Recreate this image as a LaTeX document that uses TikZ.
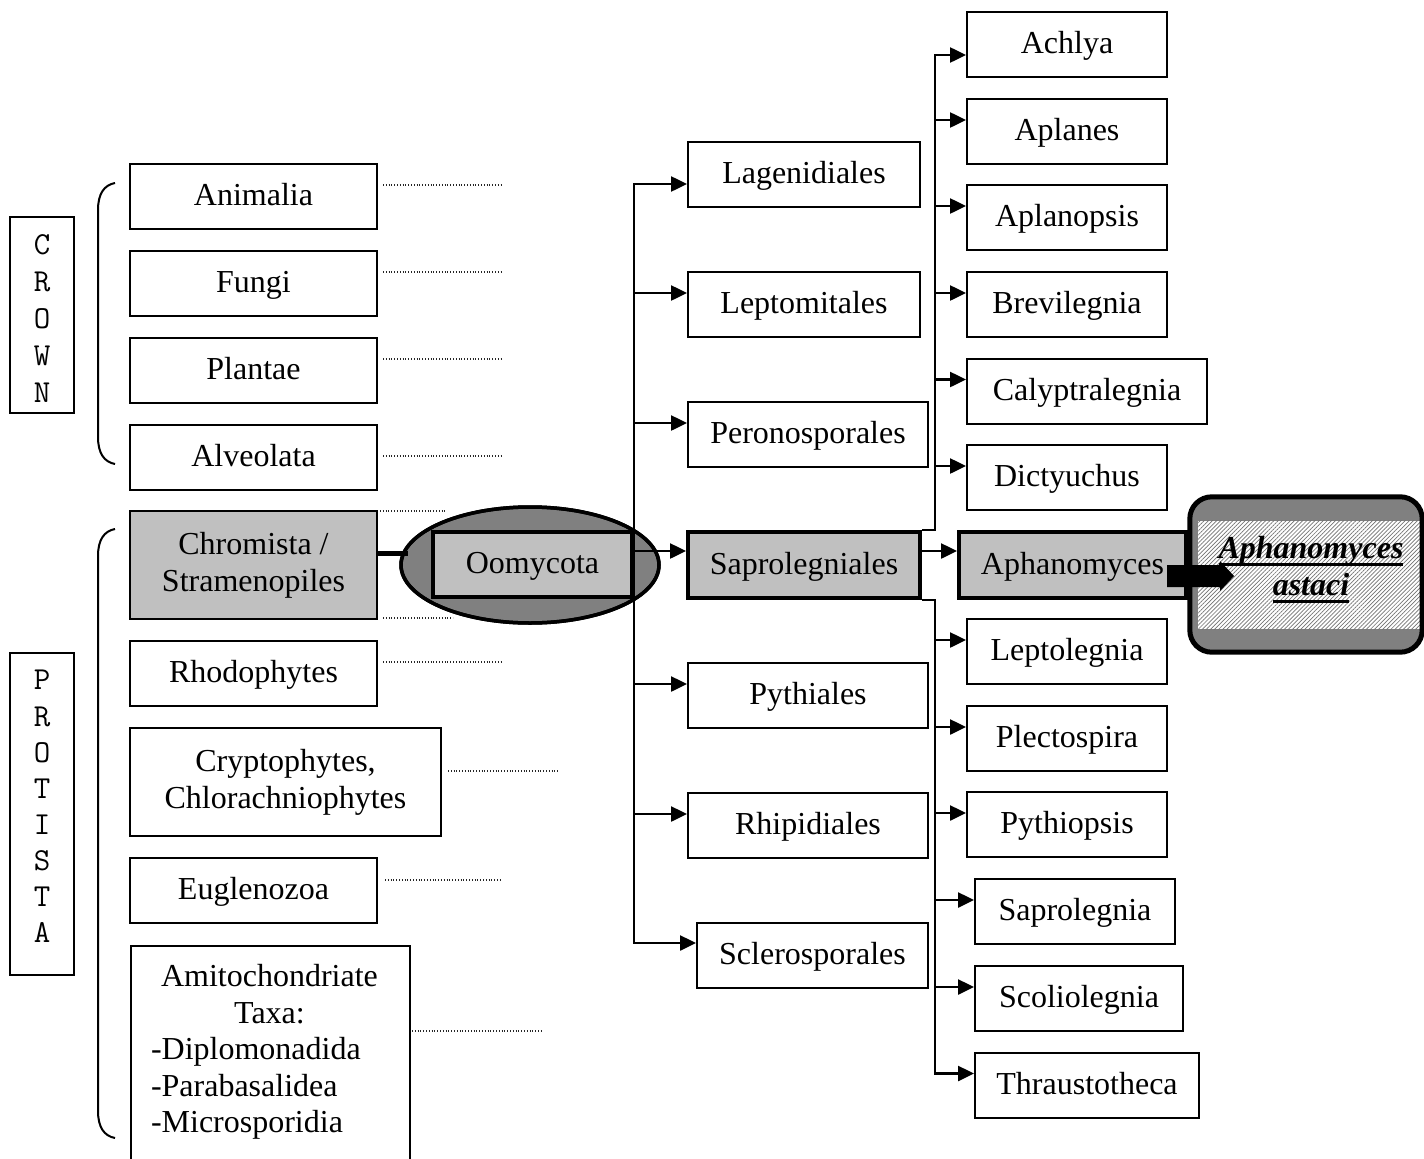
\documentclass[tikz,border=0pt]{standalone}
\usepackage{fontspec}
\setmainfont{Liberation Serif}
\usetikzlibrary{arrows.meta,shapes.geometric,patterns.meta,calc}
\definecolor{lgray}{HTML}{C0C0C0}
\definecolor{dgray}{HTML}{808080}
\newcommand\thickul[1]{\setbox0=\hbox{#1}\rlap{\rule[-7pt]{\wd0}{2.5pt}}\box0}
\begin{document}
\begin{tikzpicture}[x=1pt,y=-1pt,
  every node/.style={inner sep=0pt, font=\fontsize{32}{37}\selectfont},
  boxbase/.style={draw, line width=2pt, fill=white},
  box/.style={boxbase, text height=24pt, text depth=6pt},
  graybox/.style={draw, line width=4pt, fill=lgray, text height=24pt, text depth=6pt},
  conn/.style={line width=2.5pt, -{Triangle[length=16pt,width=15pt]}},
  conntwo/.style={line width=2.5pt, {Triangle[length=16pt,width=15pt]}-{Triangle[length=16pt,width=15pt]}},
  dotl/.style={line width=1.1pt, black!85, dash pattern=on 1pt off 1.8pt},
  bracel/.style={line width=2pt},
  monolbl/.style={align=center},
]
\useasboundingbox (0,0) rectangle (1424,1159);
\clip (0,0) rectangle (1424,1159);

% side labels
\node[boxbase, minimum width=64, minimum height=196] (crownbox) at (42,315) {};
\node[monolbl, font=\ttfamily\fontsize{32}{37}\selectfont] (crownlbl) at (42,318.5) {C\\R\\O\\W\\N};
\node[boxbase, minimum width=64, minimum height=322] (protbox) at (42,814) {};
\node[monolbl, font=\ttfamily\fontsize{32}{36.1}\selectfont] (protlbl) at (42,806.5) {P\\R\\O\\T\\I\\S\\T\\A};

% braces
\draw[bracel] (115,183) .. controls (104,185) and (98,194) .. (98,210) -- (98,437) .. controls (98,453) and (104,462) .. (115,464);
\draw[bracel] (115,529) .. controls (104,531) and (98,540) .. (98,556) -- (98,1111) .. controls (98,1127) and (104,1136) .. (115,1138);

% dotted lines
\draw[dotl] (383,185) -- (502,185);
\draw[dotl] (383,272) -- (502,272);
\draw[dotl] (383,359) -- (502,359);
\draw[dotl] (383,456) -- (502,456);
\draw[dotl] (380,511) -- (446,511);
\draw[dotl] (383,618) -- (453,618);
\draw[dotl] (383,662) -- (502,662);
\draw[dotl] (448,771) -- (558,771);
\draw[dotl] (385,880) -- (502,880);
\draw[dotl] (412,1031) -- (542,1031);

% left column
\node[box, minimum width=247, minimum height=65] (anim) at (253.5,196.5) {Animalia};
\node[box, minimum width=247, minimum height=65] (fungi) at (253.5,283.5) {Fungi};
\node[box, minimum width=247, minimum height=65] (plant) at (253.5,370.5) {Plantae};
\node[box, minimum width=247, minimum height=65] (alveo) at (253.5,457.5) {Alveolata};
\node[boxbase, fill=lgray, minimum width=247, minimum height=108, align=center] (chrom) at (253.5,565) {Chromista /\\Stramenopiles};
\node[box, minimum width=247, minimum height=65] (rhodo) at (253.5,673.5) {Rhodophytes};
\node[boxbase, minimum width=311, minimum height=108, align=center] (crypt) at (285.5,782) {Cryptophytes,\\Chlorachniophytes};
\node[box, minimum width=247, minimum height=65] (eugl) at (253.5,890.5) {Euglenozoa};
\node[boxbase, minimum width=279, minimum height=260, anchor=north west] (amito) at (130,945) {};
\node[align=center, anchor=north, font=\fontsize{32}{36.6}\selectfont] (amitotxt) at (269.5,964) {Amitochondriate\\Taxa:\\\makebox[237pt][l]{-Diplomonadida}\\\makebox[237pt][l]{-Parabasalidea}\\\makebox[237pt][l]{-Microsporidia}};

% Oomycota
\coordinate (chromOut) at ([yshift=12pt]chrom.east);
\node[ellipse, draw, line width=3.5pt, fill=dgray, minimum width=258, minimum height=116] (oell) at (530,565) {};
\draw[line width=5pt] (chromOut) -- ([xshift=9pt]chromOut -| oell.west);
\node[ellipse, draw, line width=3.5pt, minimum width=258, minimum height=116] (oellb) at (530,565) {};
\node[graybox, minimum width=199, minimum height=65] (oomr) at (532.5,564.5) {Oomycota};

% orders
\node[box, minimum width=232, minimum height=65] (lag) at (804,174.5) {Lagenidiales};
\node[box, minimum width=232, minimum height=65] (lep) at (804,304.5) {Leptomitales};
\node[box, minimum width=240, minimum height=65] (per) at (808,434.5) {Peronosporales};
\node[graybox, minimum width=232, minimum height=66] (sap) at (804,565) {Saprolegniales};
\node[box, minimum width=240, minimum height=65] (pyt) at (808,695.5) {Pythiales};
\node[box, minimum width=240, minimum height=65] (rhi) at (808,825.5) {Rhipidiales};
\node[box, minimum width=231, minimum height=65] (scl) at (812.5,955.5) {Sclerosporales};

\coordinate (in-lag) at ([yshift=-43pt]lag.north west);
\foreach \n in {lep,per,pyt,rhi}{\coordinate (in-\n) at ([yshift=-22pt]\n.north west);}
\coordinate (in-sap) at ([yshift=-21pt]sap.north west);
\coordinate (in-scl) at ([yshift=-21pt]scl.north west);

\draw[conntwo] (in-lag) -- (oomr.east |- in-lag) -- (oomr.east |- in-scl) -- (in-scl);
\foreach \n in {lep,per,sap,pyt,rhi}{\draw[conn] (oomr.east |- in-\n) -- (in-\n);}

% genera
\coordinate (rt) at (935,565);
\node[box, minimum width=200, minimum height=65] (ach) at (1067,44.5) {Achlya};
\node[box, minimum width=200, minimum height=65] (apl) at (1067,131.5) {Aplanes};
\node[box, minimum width=200, minimum height=65] (aplo) at (1067,217.5) {Aplanopsis};
\node[box, minimum width=200, minimum height=65] (brev) at (1067,304.5) {Brevilegnia};
\node[box, minimum width=240, minimum height=65] (caly) at (1087,391) {Calyptralegnia};
\node[box, minimum width=200, minimum height=65] (dict) at (1067,477.5) {Dictyuchus};
\node[box, minimum width=200, minimum height=65] (lepto) at (1067,651.5) {Leptolegnia};
\node[box, minimum width=200, minimum height=65] (plec) at (1067,738.5) {Plectospira};
\node[box, minimum width=200, minimum height=65] (pythio) at (1067,824.5) {Pythiopsis};
\node[box, minimum width=200, minimum height=65] (saprol) at (1075,911.5) {Saprolegnia};
\node[box, minimum width=208, minimum height=65] (scol) at (1079,998.5) {Scoliolegnia};
\node[box, minimum width=224, minimum height=65] (thr) at (1087,1085) {Thraustotheca};

\coordinate (in-ach) at ([yshift=-44pt]ach.north west);
\foreach \n in {apl,aplo,brev,caly,dict,lepto,plec,pythio,saprol,scol,thr}{\coordinate (in-\n) at ([yshift=-22pt]\n.north west);}

\draw[conn] (sap.north east) -- (rt |- sap.north east) -- (rt |- in-ach) -- (in-ach);
\draw[conn] (sap.south east) -- (rt |- sap.south east) -- (rt |- in-thr) -- (in-thr);
\foreach \n in {apl,aplo,brev,caly,dict,lepto,plec,pythio,saprol,scol}{\draw[conn] (rt |- in-\n) -- (in-\n);}

% Aphanomyces
\node[graybox, minimum width=227, minimum height=66] (aph) at (1072.5,565) {Aphanomyces};
\coordinate (in-aph) at ([yshift=-21pt]aph.north west);
\draw[conn] (sap.east |- in-aph) -- (in-aph);

% Aphanomyces astaci
\node[fill=dgray, rounded corners=22pt, minimum width=232, minimum height=155] (ast) at (1306,574.5) {};
\coordinate (hatchA) at ([xshift=8pt,yshift=-24pt]ast.north west);
\coordinate (hatchB) at ([xshift=-2pt,yshift=23pt]ast.south east);
\fill[white] (hatchA) rectangle (hatchB);
\fill[pattern={Lines[angle=45,distance=2.9pt,line width=0.7pt]}, pattern color=black!55] (hatchA) rectangle (hatchB);
\draw[line width=5pt, rounded corners=22pt] (ast.north west) rectangle (ast.south east);
\node[align=center, font=\bfseries\itshape\fontsize{32}{37}\selectfont] (asttxt) at (1311,569.5) {\thickul{Aphanomyces}\\\thickul{astaci}};

% block arrow from Aphanomyces into the species box
\coordinate (bigS) at ([xshift=-21pt]aph.east);
\fill (bigS) -- ++(53,0) -- ++(0,-4) -- ++(14,15) -- ++(-14,15) -- ++(0,-4) -- ++(-53,0) -- cycle;
\end{tikzpicture}
\end{document}
